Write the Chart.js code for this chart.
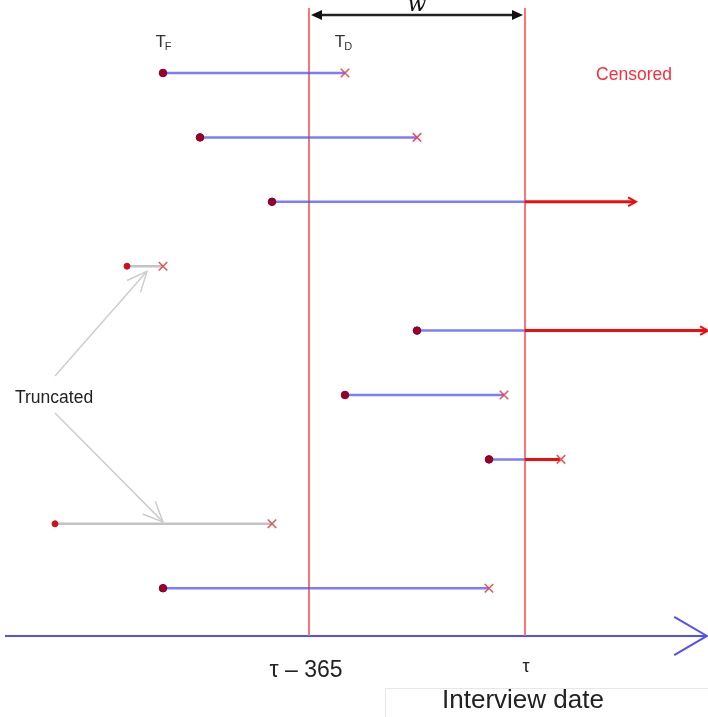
<!DOCTYPE html>
<html>
<head>
<meta charset="utf-8">
<script src="https://cdn.jsdelivr.net/npm/chart.js@4/dist/chart.umd.min.js"></script>
<style>
html,body{margin:0;padding:0;background:#fff;}
#wrap{position:relative;width:708px;height:717px;}
</style>
</head>
<body>
<div id="wrap"><canvas id="c"></canvas></div>
<script>
// ---- data (x in time units along the axis, y = subject row) ----
const rows      = [1, 2, 3, 4, 5, 6, 7, 8, 9];
const startT    = [163, 200, 272, 127, 417, 345, 489, 55, 163];   // T_F
const endT      = [345, 417, 636, 163, 708, 504, 561, 272, 489];  // T_D
const endMark   = ['x', 'x', 'arrow', 'x', 'arrow', 'x', 'x', 'x', 'x'];
const truncated = [false, false, false, true, false, false, false, true, false];
const tauMinus365 = 309;
const tau = 525;
const axisStart = 5, axisEnd = 707;
const axisRow = 9.742;
const topRow = -0.01;
const wRow = 0.099;
const tickLabels = ['\u03C4 \u2013 365', '\u03C4'];
// truncated pointer arrows: from label to segments
const truncArrows = [
  {x0: 55, y0: 5.705, x1: 147, y1: 4.08},
  {x0: 55, y0: 6.28, x1: 163, y1: 7.97}
];

const datasets = [];
const BLUE = 'rgba(80,80,255,0.75)';
const RED = 'rgb(238,12,12)';
const GREY = 'rgb(195,195,195)';
const VRED = 'rgba(255,90,90,0.85)';
const FONT = '"Liberation Sans", Arial, Helvetica, sans-serif';

// vertical reference lines
[tauMinus365, tau].forEach(v => datasets.push({
  data: [{x: v, y: topRow}, {x: v, y: axisRow}], borderColor: VRED, borderWidth: 2, pointRadius: 0, showLine: true, order: 5
}));
// time axis
datasets.push({data: [{x: axisStart, y: axisRow}, {x: axisEnd, y: axisRow}], borderColor: 'rgb(80,80,255)', borderWidth: 2, pointRadius: 0, showLine: true, order: 5});
// w arrow
datasets.push({data: [{x: tauMinus365 + 6, y: wRow}, {x: tau - 6, y: wRow}], borderColor: '#222', borderWidth: 2.5, pointRadius: 0, showLine: true});
// truncated pointers
truncArrows.forEach(a => datasets.push({data: [{x: a.x0, y: a.y0}, {x: a.x1, y: a.y1}], borderColor: 'rgb(205,205,205)', borderWidth: 1.5, pointRadius: 0, showLine: true}));

// segments
rows.forEach((r, i) => {
  const s = startT[i], e = endT[i];
  const mid = Math.min(e, tau);
  datasets.push({data: [{x: s, y: r}, {x: mid, y: r}], borderColor: truncated[i] ? GREY : BLUE,
    borderWidth: 2.5, pointRadius: 0, showLine: true, order: 3});
  if (e > tau) {
    datasets.push({data: [{x: tau, y: r}, {x: e - 1, y: r}], borderColor: RED, borderWidth: 3, pointRadius: 0, showLine: true, order: 3});
  }
});
// start dots
datasets.push({
  data: rows.map((r, i) => ({x: startT[i], y: r})), showLine: false,
  pointRadius: rows.map((r, i) => truncated[i] ? 3 : 3.8),
  pointBackgroundColor: rows.map((r, i) => truncated[i] ? '#d0101c' : '#a0001f'),
  pointBorderColor: rows.map((r, i) => truncated[i] ? '#d0101c' : '#70004a'), pointBorderWidth: 1, order: 1
});
// end crosses
const xIdx = rows.map((r, i) => i).filter(i => endMark[i] === 'x');
datasets.push({
  data: xIdx.map(i => ({x: endT[i], y: rows[i]})), showLine: false, pointStyle: 'crossRot',
  pointRadius: 6, pointBorderColor: 'rgba(225,70,80,0.9)', pointBorderWidth: 1.6, order: 1
});

const annot = {
  id: 'annot',
  afterDatasetsDraw(chart) {
    const ctx = chart.ctx, xs = chart.scales.x, ys = chart.scales.y;
    const px = v => xs.getPixelForValue(v), py = v => ys.getPixelForValue(v);
    ctx.save();
    function chevron(tx, ty, ang, len, spread, color, w) {
      ctx.strokeStyle = color; ctx.lineWidth = w; ctx.lineJoin = 'miter';
      ctx.beginPath();
      ctx.moveTo(tx - len * Math.cos(ang - spread), ty - len * Math.sin(ang - spread));
      ctx.lineTo(tx, ty);
      ctx.lineTo(tx - len * Math.cos(ang + spread), ty - len * Math.sin(ang + spread));
      ctx.stroke();
    }
    function tri(tx, ty, ang, len, half, color) {
      ctx.fillStyle = color; ctx.beginPath();
      ctx.moveTo(tx, ty);
      ctx.lineTo(tx - len * Math.cos(ang) + half * Math.sin(ang), ty - len * Math.sin(ang) - half * Math.cos(ang));
      ctx.lineTo(tx - len * Math.cos(ang) - half * Math.sin(ang), ty - len * Math.sin(ang) + half * Math.cos(ang));
      ctx.closePath(); ctx.fill();
    }
    // faint frame around the x-axis title
    ctx.strokeStyle = 'rgba(235,225,225,0.9)'; ctx.lineWidth = 1;
    ctx.beginPath(); ctx.moveTo(385.5, 717); ctx.lineTo(385.5, 688.5); ctx.lineTo(708, 688.5); ctx.stroke();
    // axis arrowhead
    chevron(px(axisEnd), py(axisRow), 0, 38, 0.53, 'rgb(80,80,255)', 2);
    // censored arrows
    rows.forEach((r, i) => { if (endMark[i] === 'arrow') chevron(px(endT[i]), py(r), 0, 9, 0.5, RED, 2); });
    // w arrow heads
    tri(px(tauMinus365 + 2), py(wRow), Math.PI, 11, 5, '#111');
    tri(px(tau - 2), py(wRow), 0, 11, 5, '#111');
    // truncated pointer heads
    truncArrows.forEach(a => {
      const x0 = px(a.x0), y0 = py(a.y0), x1 = px(a.x1), y1 = py(a.y1);
      chevron(x1, y1, Math.atan2(y1 - y0, x1 - x0), 22, 0.42, 'rgb(205,205,205)', 1.5);
    });
    // texts
    ctx.textBaseline = 'alphabetic';
    ctx.fillStyle = '#111';
    ctx.font = 'italic 22px "DejaVu Serif", serif';
    ctx.textAlign = 'center';
    ctx.fillText('w', px((tauMinus365 + tau) / 2), 11);
    function sub(main, s, cx, by) {
      ctx.font = '17px ' + FONT;
      const w1 = ctx.measureText(main).width;
      ctx.font = '11px ' + FONT;
      const w2 = ctx.measureText(s).width;
      const x0 = cx - (w1 + w2) / 2;
      ctx.textAlign = 'left'; ctx.fillStyle = '#333';
      ctx.font = '17px ' + FONT;
      ctx.fillText(main, x0, by);
      ctx.font = '11px ' + FONT;
      ctx.fillText(s, x0 + w1 - 1, by + 3);
    }
    sub('T', 'F', px(startT[0]) + 1, py(rows[0]) - 26);
    sub('T', 'D', px(endT[0]) - 1, py(rows[0]) - 26);
    ctx.textAlign = 'center';
    ctx.fillStyle = 'rgb(250,45,60)';
    ctx.font = '17.5px ' + FONT;
    ctx.fillText('Censored', px(634), py(1) + 7);
    ctx.fillStyle = '#222';
    ctx.textAlign = 'left';
    ctx.font = '17.5px ' + FONT;
    ctx.fillText('Truncated', px(15), py(6) + 8);
    ctx.textAlign = 'center';
    ctx.fillStyle = '#222';
    ctx.font = '23px ' + FONT;
    ctx.fillText(tickLabels[0], px(tauMinus365) - 3, py(axisRow) + 41);
    ctx.font = '18px ' + FONT;
    ctx.fillText(tickLabels[1], px(tau) + 1, py(axisRow) + 36);
    ctx.font = '26px ' + FONT;
    ctx.fillText('Interview date', px(tau) - 2, py(axisRow) + 72);
    ctx.restore();
  }
};

new Chart(document.getElementById('c'), {
  type: 'scatter',
  data: {datasets},
  options: {
    responsive: true, maintainAspectRatio: false, animation: false,
    layout: {padding: 0, autoPadding: false},
    plugins: {legend: {display: false}, tooltip: {enabled: false}},
    elements: {line: {tension: 0, borderCapStyle: 'butt'}},
    scales: {
      x: {type: 'linear', min: 0, max: 708, display: false},
      y: {type: 'linear', min: -0.1335, max: 11.0, reverse: true, display: false}
    }
  },
  plugins: [annot]
});
</script>
</body>
</html>
